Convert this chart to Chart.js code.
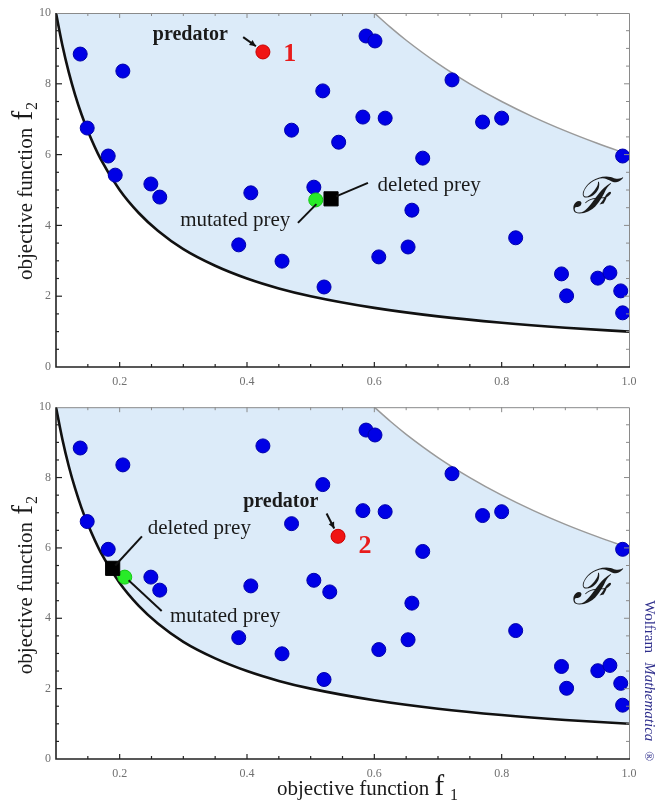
<!DOCTYPE html>
<html><head><meta charset="utf-8">
<script src="https://cdn.jsdelivr.net/npm/chart.js@4.4.0/dist/chart.umd.min.js"></script>
<style>
html,body{margin:0;padding:0;background:#fff;width:659px;height:808px;overflow:hidden}
#p1{position:absolute;left:0;top:0;width:659px;height:395px}
#p2{position:absolute;left:0;top:395px;width:659px;height:413px}
</style></head><body>
<div id="p1"><canvas id="c1"></canvas></div>
<div id="p2"><canvas id="c2"></canvas></div>
<script>
// ---------- data ----------
const xTickValues = [0.2, 0.4, 0.6, 0.8, 1.0];
const yTickValues = [0, 2, 4, 6, 8, 10];

// lower (Pareto) boundary of the feasible region F
const lowerFrontX = [0.1,0.11,0.12,0.13,0.14,0.15,0.17,0.2,0.23,0.26,0.3,0.35,0.4,0.45,0.5,0.6,0.7,0.8,0.9,1.0];
const lowerFrontY = [10,9.09,8.33,7.69,7.14,6.67,5.88,5.0,4.35,3.85,3.33,2.86,2.5,2.22,2.0,1.67,1.43,1.25,1.11,1.0];
// upper boundary of F
const upperBoundX = [0.6,0.625,0.65,0.7,0.75,0.8,0.85,0.9,0.95,1.0];
const upperBoundY = [10,9.6,9.23,8.57,8.0,7.5,7.06,6.67,6.32,6.0];

// panel 1 prey
const prey1X = [0.138,0.205,0.149,0.182,0.193,0.249,0.263,0.406,0.387,0.455,0.521,0.470,0.519,0.505,0.544,0.582,0.617,0.587,0.601,0.722,0.770,0.800,0.676,0.990,0.659,0.653,0.607,0.822,0.894,0.902,0.951,0.970,0.987,0.990];
const prey1Y = [8.84,8.36,6.75,5.96,5.42,5.17,4.80,4.92,3.45,2.99,2.26,6.69,7.80,5.08,6.35,7.06,7.03,9.35,9.21,8.11,6.92,7.03,5.90,5.96,4.43,3.39,3.11,3.65,2.63,2.01,2.51,2.66,2.15,1.53];
const predator1 = [0.425, 8.90];
const mutated1 = [0.508, 4.72];
const deleted1 = [0.532, 4.75];

// panel 2 prey
const prey2X = [0.138,0.205,0.149,0.182,0.249,0.263,0.406,0.387,0.455,0.521,0.470,0.519,0.505,0.530,0.425,0.582,0.617,0.587,0.601,0.722,0.770,0.800,0.676,0.990,0.659,0.653,0.607,0.822,0.894,0.902,0.951,0.970,0.987,0.990];
const prey2Y = [8.84,8.36,6.75,5.96,5.17,4.80,4.92,3.45,2.99,2.26,6.69,7.80,5.08,4.75,8.90,7.06,7.03,9.35,9.21,8.11,6.92,7.03,5.90,5.96,4.43,3.39,3.11,3.65,2.63,2.01,2.51,2.66,2.15,1.53];
const predator2 = [0.543, 6.33];
const mutated2 = [0.208, 5.17];
const deleted2 = [0.189, 5.42];

// ---------- helpers ----------
const SERIF = '"Liberation Serif", "Times New Roman", serif';
const FILL = '#dcebf9';
const zip = (xs, ys) => xs.map((x, i) => ({x: x, y: ys[i]}));

function drawArrow(ctx, x0, y0, x1, y1, head) {
  ctx.save();
  ctx.strokeStyle = '#111'; ctx.fillStyle = '#111'; ctx.lineWidth = 2;
  ctx.beginPath(); ctx.moveTo(x0, y0); ctx.lineTo(x1, y1); ctx.stroke();
  if (head) {
    const a = Math.atan2(y1 - y0, x1 - x0), L = 7, W = 0.45;
    ctx.beginPath();
    ctx.moveTo(x1, y1);
    ctx.lineTo(x1 - L * Math.cos(a - W), y1 - L * Math.sin(a - W));
    ctx.lineTo(x1 - L * Math.cos(a + W), y1 - L * Math.sin(a + W));
    ctx.closePath(); ctx.fill();
  }
  ctx.restore();
}

const framePlugin = {
  id: 'frame',
  afterDatasetsDraw(chart) {
    const {ctx, chartArea: a, scales: {x, y}} = chart;
    ctx.save();
    // top + right (gray)
    ctx.strokeStyle = '#8a8a8a'; ctx.lineWidth = 1;
    ctx.beginPath(); ctx.moveTo(a.left, a.top + 0.5); ctx.lineTo(a.right + 0.5, a.top + 0.5); ctx.lineTo(a.right + 0.5, a.bottom); ctx.stroke();
    for (let k = 3; k <= 19; k++) {
      const px = x.getPixelForValue(k * 0.05), len = (k % 4 === 0) ? 5 : 3;
      ctx.beginPath(); ctx.moveTo(px, a.top); ctx.lineTo(px, a.top + len); ctx.stroke();
    }
    for (let k = 1; k <= 19; k++) {
      const py = y.getPixelForValue(k * 0.5), len = (k % 4 === 0) ? 5 : 3;
      ctx.beginPath(); ctx.moveTo(a.right, py); ctx.lineTo(a.right - len, py); ctx.stroke();
    }
    // left + bottom (black)
    ctx.strokeStyle = '#222'; ctx.lineWidth = 1.6;
    ctx.beginPath(); ctx.moveTo(a.left, a.top); ctx.lineTo(a.left, a.bottom); ctx.lineTo(a.right + 1, a.bottom); ctx.stroke();
    ctx.lineWidth = 1.2;
    for (let k = 3; k <= 19; k++) {
      const px = x.getPixelForValue(k * 0.05), len = (k % 4 === 0) ? 5 : 3;
      ctx.beginPath(); ctx.moveTo(px, a.bottom); ctx.lineTo(px, a.bottom - len); ctx.stroke();
    }
    for (let k = 1; k <= 19; k++) {
      const py = y.getPixelForValue(k * 0.5), len = (k % 4 === 0) ? 6 : 3;
      ctx.beginPath(); ctx.moveTo(a.left, py); ctx.lineTo(a.left + len, py); ctx.stroke();
    }
    ctx.restore();
  }
};

const annotPlugin = {
  id: 'annot',
  afterDatasetsDraw(chart, args, opts) {
    const {ctx, scales: {x, y}} = chart;
    const P = (d) => [x.getPixelForValue(d[0]), y.getPixelForValue(d[1])];
    ctx.save();
    ctx.textBaseline = 'middle';
    (opts.arrows || []).forEach(ar => {
      const p0 = P(ar.from), p1 = P(ar.to);
      drawArrow(ctx, p0[0], p0[1], p1[0], p1[1], ar.head);
    });
    (opts.texts || []).forEach(t => {
      const p = P(t.at);
      ctx.font = t.font; ctx.fillStyle = t.color || '#1a1a1a';
      ctx.textAlign = t.align || 'left';
      ctx.fillText(t.text, p[0], p[1]);
    });
    ctx.restore();
  }
};

const titlePlugin = {
  id: 'titles',
  afterDraw(chart, args, opts) {
    const {ctx, chartArea: a} = chart;
    ctx.save();
    ctx.fillStyle = '#1a1a1a';
    ctx.textBaseline = 'alphabetic';
    // y title, rotated, reading upwards
    ctx.save();
    ctx.translate(32, a.top + 267);
    ctx.rotate(-Math.PI / 2);
    ctx.textAlign = 'left';
    ctx.font = '21px ' + SERIF;
    const s1 = 'objective function ';
    ctx.fillText(s1, 0, 0);
    let w = ctx.measureText(s1).width + 2;
    ctx.font = '29px ' + SERIF;
    ctx.fillText('f', w, 0);
    w += ctx.measureText('f').width + 1;
    ctx.font = '16px ' + SERIF;
    ctx.fillText('2', w, 5);
    ctx.restore();
    if (opts.xTitle) {
      ctx.font = '21px ' + SERIF;
      const s = 'objective function ';
      const x0 = 277, y0 = a.bottom + 36;
      ctx.fillText(s, x0, y0);
      let w2 = ctx.measureText(s).width;
      ctx.font = '29px ' + SERIF;
      ctx.fillText('f', x0 + w2, y0);
      w2 += ctx.measureText('f').width + 6;
      ctx.font = '16px ' + SERIF;
      ctx.fillText('1', x0 + w2, y0 + 5);
    }
    if (opts.brand) {
      ctx.save();
      ctx.translate(645, a.top + 193);
      ctx.rotate(Math.PI / 2);
      ctx.fillStyle = '#2e2e8c';
      ctx.textAlign = 'left';
      ctx.font = '15px ' + SERIF;
      ctx.fillText('Wolfram', 0, 0);
      let w3 = ctx.measureText('Wolfram').width + 9;
      ctx.font = 'italic 15px ' + SERIF;
      ctx.fillText('Mathematica', w3, 0);
      w3 += ctx.measureText('Mathematica').width + 10;
      ctx.font = '13px ' + SERIF;
      ctx.fillText('®', w3, 0);
      ctx.restore();
    }
    ctx.restore();
  }
};

function makePanel(canvasId, p) {
  const datasets = [
    // feasible region: everything above the lower front (light blue) ...
    { type: 'line', data: zip(lowerFrontX, lowerFrontY), order: 30,
      borderColor: '#111', borderWidth: 2.6, pointRadius: 0,
      cubicInterpolationMode: 'monotone',
      fill: 'end', backgroundColor: FILL },
    // ... minus everything above the upper boundary (white)
    { type: 'line', data: zip(upperBoundX, upperBoundY), order: 29,
      borderColor: '#9a9a9a', borderWidth: 1.5, pointRadius: 0,
      cubicInterpolationMode: 'monotone',
      fill: 'end', backgroundColor: '#ffffff' },
    { type: 'scatter', data: zip(p.preyX, p.preyY), order: 5,
      pointRadius: 7, pointHoverRadius: 7,
      backgroundColor: 'rgb(0,0,230)', borderColor: 'rgb(0,0,170)', borderWidth: 1 },
    { type: 'scatter', data: [{x: p.predator[0], y: p.predator[1]}], order: 3,
      pointRadius: 7, backgroundColor: 'rgb(240,20,20)', borderColor: 'rgb(200,0,0)', borderWidth: 1 },
    { type: 'scatter', data: [{x: p.mutated[0], y: p.mutated[1]}], order: 2,
      pointRadius: 7, backgroundColor: 'rgb(40,235,40)', borderColor: 'rgb(20,200,20)', borderWidth: 1 },
    { type: 'scatter', data: [{x: p.deleted[0], y: p.deleted[1]}], order: 1,
      pointStyle: 'rectRot', pointRadius: 10, rotation: 45, backgroundColor: '#000', borderColor: '#000', borderWidth: 1 }
  ];
  return new Chart(document.getElementById(canvasId), {
    type: 'scatter',
    data: { datasets },
    plugins: [framePlugin, annotPlugin, titlePlugin],
    options: {
      responsive: true, maintainAspectRatio: false, animation: false,
      layout: { padding: { left: 0, right: 30, top: p.padTop, bottom: 0 } },
      plugins: {
        legend: { display: false }, tooltip: { enabled: false },
        annot: p.annot,
        titles: { xTitle: p.xTitle, brand: p.brand }
      },
      scales: {
        x: {
          type: 'linear', min: 0.1, max: 1.0,
          afterBuildTicks: s => { s.ticks = xTickValues.map(v => ({value: v})); },
          afterFit: s => { s.height = p.xAxisH; },
          grid: { display: false, drawTicks: false, tickLength: 0 }, border: { display: false },
          ticks: { padding: 8, color: '#707070', font: { family: SERIF, size: 12 }, maxRotation: 0,
                   callback: v => Number(v).toFixed(1) }
        },
        y: {
          type: 'linear', min: 0, max: 10,
          afterBuildTicks: s => { s.ticks = yTickValues.map(v => ({value: v})); },
          afterFit: s => { s.width = 56; },
          grid: { display: false, drawTicks: false, tickLength: 0 }, border: { display: false },
          ticks: { padding: 5, color: '#707070', font: { family: SERIF, size: 12 },
                   callback: v => String(v) }
        }
      }
    }
  });
}

makePanel('c1', {
  preyX: prey1X, preyY: prey1Y, predator: predator1, mutated: mutated1, deleted: deleted1,
  padTop: 13, xAxisH: 28, xTitle: false, brand: false,
  annot: {
    texts: [
      { text: 'predator', at: [0.252, 9.38], font: 'bold 20px ' + SERIF },
      { text: '1', at: [0.457, 8.82], font: 'bold 26px ' + SERIF, color: '#e81c1c' },
      { text: 'deleted prey', at: [0.605, 5.14], font: '21px ' + SERIF },
      { text: 'mutated prey', at: [0.295, 4.15], font: '21px ' + SERIF },
      { text: 'ℱ', at: [0.91, 4.72], font: 'italic 50px "DejaVu Serif", serif' }
    ],
    arrows: [
      { from: [0.394, 9.32], to: [0.414, 9.06], head: true },
      { from: [0.590, 5.20], to: [0.540, 4.82] },
      { from: [0.480, 4.07], to: [0.509, 4.60] }
    ]
  }
});

makePanel('c2', {
  preyX: prey2X, preyY: prey2Y, predator: predator2, mutated: mutated2, deleted: deleted2,
  padTop: 10, xAxisH: 49, xTitle: true, brand: true,
  annot: {
    texts: [
      { text: 'predator', at: [0.394, 7.32], font: 'bold 20px ' + SERIF },
      { text: '2', at: [0.575, 6.06], font: 'bold 26px ' + SERIF, color: '#e81c1c' },
      { text: 'deleted prey', at: [0.244, 6.55], font: '21px ' + SERIF },
      { text: 'mutated prey', at: [0.279, 4.04], font: '21px ' + SERIF },
      { text: 'ℱ', at: [0.91, 4.77], font: 'italic 50px "DejaVu Serif", serif' }
    ],
    arrows: [
      { from: [0.525, 6.98], to: [0.537, 6.55], head: true },
      { from: [0.235, 6.33], to: [0.193, 5.50] },
      { from: [0.266, 4.21], to: [0.214, 5.08] }
    ]
  }
});
</script>
</body></html>
